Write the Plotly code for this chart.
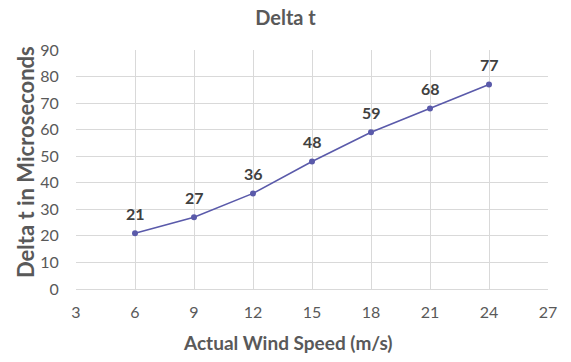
import plotly.graph_objects as go

wind_speed = [6, 9, 12, 15, 18, 21, 24]
delta_t = [21, 27, 36, 48, 59, 68, 77]
x_ticks = [3, 6, 9, 12, 15, 18, 21, 24, 27]
y_ticks = [0, 10, 20, 30, 40, 50, 60, 70, 80, 90]

FONT = "Lato, Open Sans, sans-serif"
GRAY = "#595959"

fig = go.Figure()
fig.add_trace(go.Scatter(
    x=wind_speed, y=delta_t,
    mode="lines+markers",
    line=dict(color="#5a5aaa", width=1.6),
    marker=dict(color="#5a5aaa", size=6),
    showlegend=False,
    cliponaxis=False,
))
for xv, yv in zip(wind_speed, delta_t):
    fig.add_annotation(
        x=xv, y=yv, text=f"<b>{yv}</b>", showarrow=False,
        xanchor="center", yanchor="middle", yshift=20,
        font=dict(family=FONT, size=16, color="#404040"),
    )

fig.update_layout(
    width=571, height=362,
    margin=dict(l=76, r=23, t=50, b=73),
    paper_bgcolor="white", plot_bgcolor="white",
    title=dict(text="<b>Delta t</b>", x=0.5, xanchor="center", xref="container", y=0.95, yanchor="middle",
               font=dict(family=FONT, size=20, color=GRAY)),
    font=dict(family=FONT, color=GRAY),
)
fig.update_xaxes(
    range=[3, 27], tickvals=x_ticks, ticktext=[str(v) for v in x_ticks],
    showgrid=True, gridcolor="#d9d9d9", gridwidth=1, zeroline=False,
    showline=True, linecolor="#d9d9d9",
    ticks="outside", ticklen=9, tickcolor="rgba(0,0,0,0)",
    tickfont=dict(family=FONT, size=16, color=GRAY),
)
fig.update_yaxes(
    range=[0, 90], tickvals=y_ticks,
    showgrid=True, gridcolor="#d9d9d9", gridwidth=1, zeroline=False,
    showline=False,
    ticks="outside", ticklen=13, tickcolor="rgba(0,0,0,0)",
    tickfont=dict(family=FONT, size=16, color=GRAY),
)
fig.add_annotation(
    text="<b>Actual Wind Speed (m/s)</b>", xref="paper", yref="paper",
    x=(288 - 76) / (571 - 76 - 23), y=-(342 - 289) / (289 - 50),
    xanchor="center", yanchor="middle", showarrow=False,
    font=dict(family=FONT, size=19, color=GRAY),
)
fig.add_annotation(
    text="<b>Delta t in Microseconds</b>", xref="paper", yref="paper",
    x=-(76 - 25) / (571 - 76 - 23), y=(289 - 162) / (289 - 50),
    xanchor="center", yanchor="middle", showarrow=False, textangle=-90,
    font=dict(family=FONT, size=22, color=GRAY),
)

fig.write_html("out.html")
